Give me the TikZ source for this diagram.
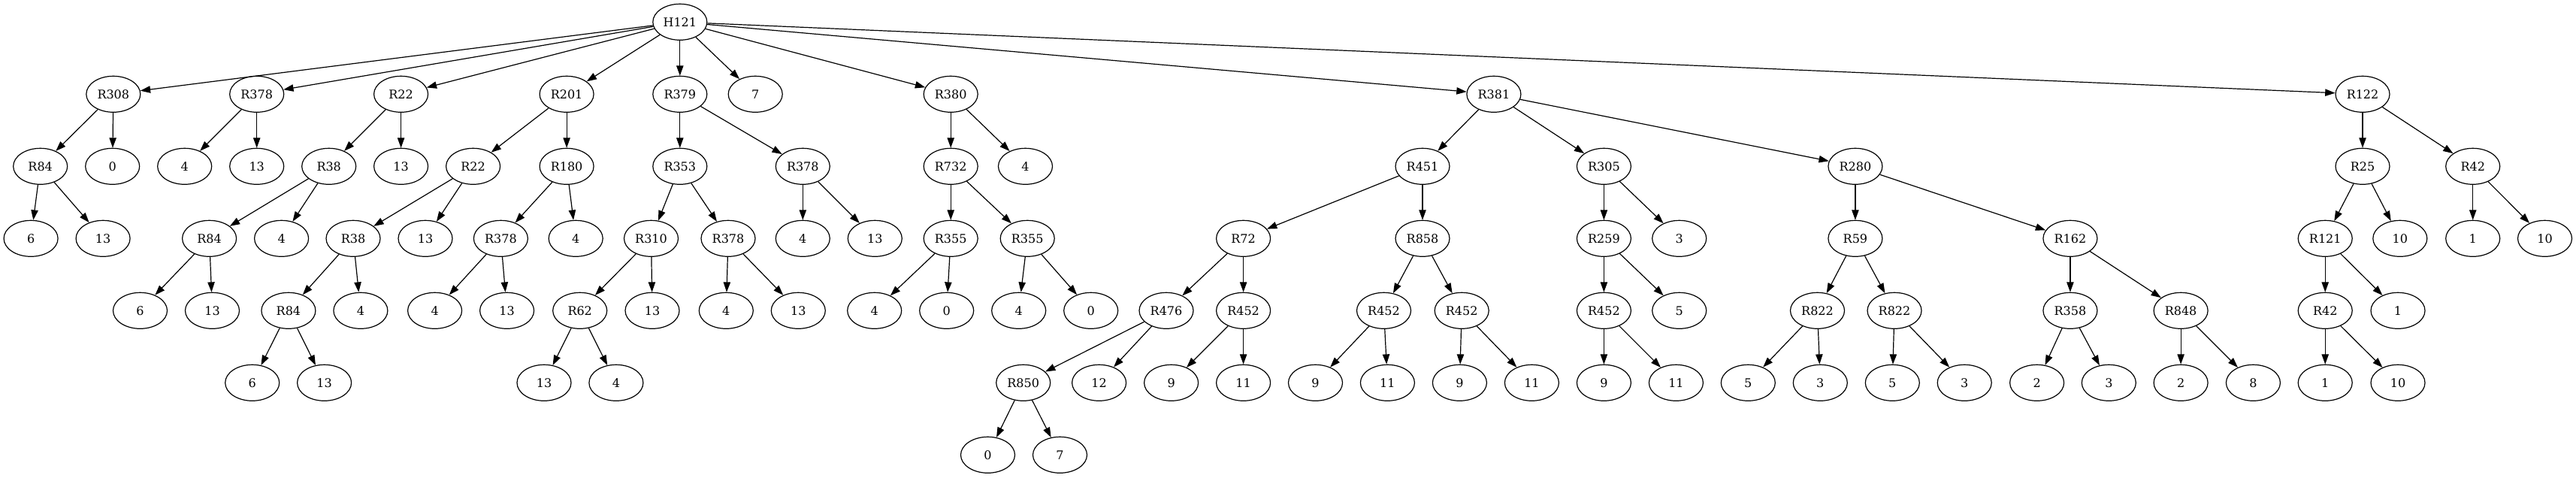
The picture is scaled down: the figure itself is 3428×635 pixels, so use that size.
\documentclass[tikz,border=0pt]{standalone}
\usepackage{fontspec}
\setmainfont{DejaVu Serif}
\usetikzlibrary{arrows.meta,shapes.geometric}
\begin{document}
\begin{tikzpicture}[x=0.75pt,y=-0.75pt,
  vert/.style={draw=black,ellipse,line width=0.9pt,minimum width=54pt,minimum height=36pt,inner sep=0pt,font=\fontsize{12}{14}\selectfont},
  edge/.style={-{Triangle[length=10pt,width=7pt]},line width=0.9pt}]
\useasboundingbox (0,0) rectangle (3428,635);
% the root and the first rank
\node[vert] (h121) at (904.8,29.3) {H121};
\node[vert] (r308) at (150.8,125.3) {R308};
\node[vert] (r378a) at (341.7,125.3) {R378};
\node[vert] (r22a) at (533.6,125.3) {R22};
\node[vert] (r201) at (754.1,125.3) {R201};
\node[vert] (r379) at (904.8,125.3) {R379};
\node[vert] (n7a) at (1005.2,125.3) {7};
\node[vert] (r380) at (1265.2,125.3) {R380};
\node[vert] (r381) at (1987.9,125.3) {R381};
\node[vert] (r122) at (3144,125.3) {R122};
% second rank
\node[vert] (r84a) at (53.7,221.3) {R84};
\node[vert] (n0a) at (149.7,221.3) {0};
\node[vert] (n4a) at (245.7,221.3) {4};
\node[vert] (n13a) at (341.7,221.3) {13};
\node[vert] (r38a) at (437.7,221.3) {R38};
\node[vert] (n13b) at (533.6,221.3) {13};
\node[vert] (r22b) at (629.6,221.3) {R22};
\node[vert] (r180) at (754.1,221.3) {R180};
\node[vert] (r353) at (904.8,221.3) {R353};
\node[vert] (r378b) at (1068.3,221.3) {R378};
\node[vert] (r732) at (1265.2,221.3) {R732};
\node[vert] (n4b) at (1364.5,221.3) {4};
\node[vert] (r451) at (1893,221.3) {R451};
\node[vert] (r305) at (2134.4,221.3) {R305};
\node[vert] (r280) at (2468.9,221.3) {R280};
\node[vert] (r25) at (3144,221.3) {R25};
\node[vert] (r42a) at (3290.7,221.3) {R42};
% third rank
\node[vert] (n6a) at (41.1,317.3) {6};
\node[vert] (n13c) at (137.1,317.3) {13};
\node[vert] (r84b) at (278.6,317.3) {R84};
\node[vert] (n4c) at (374.6,317.3) {4};
\node[vert] (r38b) at (470,317.3) {R38};
\node[vert] (n13d) at (566,317.3) {13};
\node[vert] (r378c) at (666.4,317.3) {R378};
\node[vert] (n4d) at (766.2,317.3) {4};
\node[vert] (r310) at (866.5,317.3) {R310};
\node[vert] (r378d) at (969,317.3) {R378};
\node[vert] (n4e) at (1068.3,317.3) {4};
\node[vert] (n13e) at (1164.3,317.3) {13};
\node[vert] (r355a) at (1265.2,317.3) {R355};
\node[vert] (r355b) at (1367.2,317.3) {R355};
\node[vert] (r72) at (1654.6,317.3) {R72};
\node[vert] (r858) at (1893,317.3) {R858};
\node[vert] (r259) at (2134.4,317.3) {R259};
\node[vert] (n3a) at (2234.7,317.3) {3};
\node[vert] (r59) at (2468.9,317.3) {R59};
\node[vert] (r162) at (2754.9,317.3) {R162};
\node[vert] (r121) at (3094.2,317.3) {R121};
\node[vert] (n10a) at (3193.8,317.3) {10};
\node[vert] (n1a) at (3290.7,317.3) {1};
\node[vert] (n10b) at (3386.5,317.3) {10};
% fourth rank
\node[vert] (n6b) at (186.5,413.3) {6};
\node[vert] (n13f) at (282.5,413.3) {13};
\node[vert] (r84c) at (383.9,413.3) {R84};
\node[vert] (n4f) at (479.9,413.3) {4};
\node[vert] (n4g) at (578.6,413.3) {4};
\node[vert] (n13g) at (674.6,413.3) {13};
\node[vert] (r62) at (771.7,413.3) {R62};
\node[vert] (n13h) at (868,413.3) {13};
\node[vert] (n4h) at (966.3,413.3) {4};
\node[vert] (n13i) at (1062.3,413.3) {13};
\node[vert] (n4i) at (1163.7,413.3) {4};
\node[vert] (n0b) at (1259.7,413.3) {0};
\node[vert] (n4j) at (1355.7,413.3) {4};
\node[vert] (n0c) at (1451.7,413.3) {0};
\node[vert] (r476) at (1552,413.3) {R476};
\node[vert] (r452a) at (1654.6,413.3) {R452};
\node[vert] (r452b) at (1841.5,413.3) {R452};
\node[vert] (r452c) at (1945.2,413.3) {R452};
\node[vert] (r452d) at (2134.4,413.3) {R452};
\node[vert] (n5a) at (2234.7,413.3) {5};
\node[vert] (r822a) at (2418.5,413.3) {R822};
\node[vert] (r822b) at (2521,413.3) {R822};
\node[vert] (r358) at (2754.9,413.3) {R358};
\node[vert] (r848) at (2902.1,413.3) {R848};
\node[vert] (r42b) at (3094.2,413.3) {R42};
\node[vert] (n1b) at (3191,413.3) {1};
% fifth rank
\node[vert] (n6c) at (335.7,509.3) {6};
\node[vert] (n13j) at (431.6,509.3) {13};
\node[vert] (n13k) at (724,509.3) {13};
\node[vert] (n4k) at (819.9,509.3) {4};
\node[vert] (r850) at (1361.7,509.3) {R850};
\node[vert] (n12) at (1462.6,509.3) {12};
\node[vert] (n9a) at (1558.6,509.3) {9};
\node[vert] (n11a) at (1654.6,509.3) {11};
\node[vert] (n9b) at (1750.5,509.3) {9};
\node[vert] (n11b) at (1846.4,509.3) {11};
\node[vert] (n9c) at (1942.4,509.3) {9};
\node[vert] (n11c) at (2038.4,509.3) {11};
\node[vert] (n9d) at (2134.4,509.3) {9};
\node[vert] (n11d) at (2230.4,509.3) {11};
\node[vert] (n5b) at (2326.3,509.3) {5};
\node[vert] (n3b) at (2422.3,509.3) {3};
\node[vert] (n5c) at (2518.3,509.3) {5};
\node[vert] (n3c) at (2614.2,509.3) {3};
\node[vert] (n2a) at (2710.6,509.3) {2};
\node[vert] (n3d) at (2806.3,509.3) {3};
\node[vert] (n2b) at (2902.1,509.3) {2};
\node[vert] (n8) at (2998.4,509.3) {8};
\node[vert] (n1c) at (3094.2,509.3) {1};
\node[vert] (n10c) at (3191,509.3) {10};
% last rank
\node[vert] (n0d) at (1314.5,605.3) {0};
\node[vert] (n7b) at (1410.5,605.3) {7};
% the edges
\foreach \a/\b in {h121/r308,h121/r378a,h121/r22a,h121/r201,h121/r379,h121/n7a,h121/r380,h121/r381,h121/r122,
  r308/r84a,r308/n0a,r378a/n4a,r378a/n13a,r22a/r38a,r22a/n13b,r201/r22b,r201/r180,
  r379/r353,r379/r378b,r380/r732,r380/n4b,r381/r451,r381/r305,r381/r280,r122/r25,r122/r42a,
  r84a/n6a,r84a/n13c,r38a/r84b,r38a/n4c,r22b/r38b,r22b/n13d,r180/r378c,r180/n4d,
  r353/r310,r353/r378d,r378b/n4e,r378b/n13e,r732/r355a,r732/r355b,r451/r72,r451/r858,
  r305/r259,r305/n3a,r280/r59,r280/r162,r25/r121,r25/n10a,r42a/n1a,r42a/n10b,
  r84b/n6b,r84b/n13f,r38b/r84c,r38b/n4f,r378c/n4g,r378c/n13g,r310/r62,r310/n13h,
  r378d/n4h,r378d/n13i,r355a/n4i,r355a/n0b,r355b/n4j,r355b/n0c,r72/r476,r72/r452a,
  r858/r452b,r858/r452c,r259/r452d,r259/n5a,r59/r822a,r59/r822b,r162/r358,r162/r848,
  r121/r42b,r121/n1b,r84c/n6c,r84c/n13j,r62/n13k,r62/n4k,r476/r850,r476/n12,
  r452a/n9a,r452a/n11a,r452b/n9b,r452b/n11b,r452c/n9c,r452c/n11c,r452d/n9d,r452d/n11d,
  r822a/n5b,r822a/n3b,r822b/n5c,r822b/n3c,r358/n2a,r358/n3d,r848/n2b,r848/n8,
  r42b/n1c,r42b/n10c,r850/n0d,r850/n7b}
  \draw[edge] (\a) -- (\b);
\end{tikzpicture}
\end{document}
